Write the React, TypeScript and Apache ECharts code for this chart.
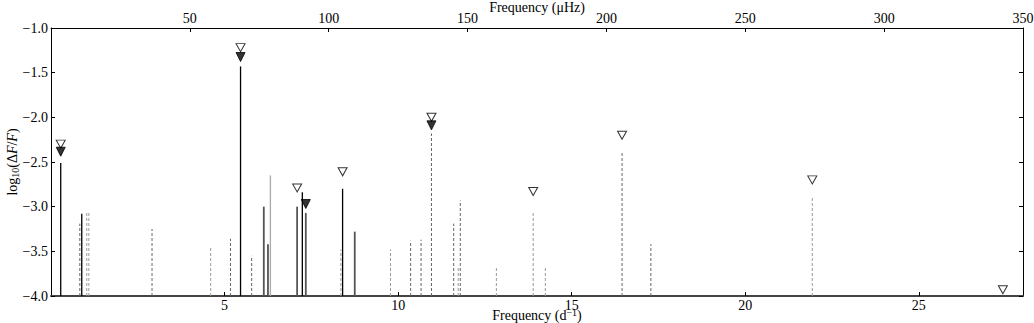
import React, { useEffect, useRef } from "react";
import * as echarts from "echarts";

// Stem data: frequency (d^-1) and log10(dF/F)
const solidBlackFreq = [0.28, 0.886, 5.46, 7.24, 8.4];
const solidBlackVal = [-2.51, -3.08, -1.43, -2.84, -2.8];
const solidGrayFreq = [6.13, 6.25, 7.09, 7.34, 8.75];
const solidGrayVal = [-3.0, -3.42, -3.0, -3.07, -3.28];
const solidLightFreq = [6.32];
const solidLightVal = [-2.65];
const dashedDarkFreq = [0.83, 2.91, 5.17, 5.78, 10.36, 10.66, 10.96, 11.6, 11.79, 16.45, 17.28];
const dashedDarkVal = [-3.19, -3.25, -3.36, -3.55, -3.38, -3.37, -2.18, -3.19, -2.93, -2.4, -3.42];
const dashedLightFreq = [1.03, 1.09, 4.6, 8.35, 9.78, 11.73, 12.83, 13.89, 14.24, 21.93];
const dashedLightVal = [-3.07, -3.06, -3.45, -3.48, -3.48, -3.67, -3.68, -3.05, -3.67, -2.9];

// Triangle markers
const openMarkerFreq = [0.28, 5.46, 7.09, 8.4, 10.96, 13.89, 16.45, 21.93, 27.42];
const openMarkerVal = [-2.3, -1.22, -2.79, -2.61, -2.0, -2.83, -2.2, -2.7, -3.93];
const filledMarkerFreq = [0.28, 5.46, 7.34, 10.96];
const filledMarkerVal = [-2.385, -1.325, -2.97, -2.09];

const X_MIN = 0;
const X_MAX = 28;
const X_INTERVAL = 5;
const TOP_MIN = 0;
const TOP_MAX = 350;
const TOP_INTERVAL = 50;
const Y_MIN = -4;
const Y_MAX = -1;
const Y_INTERVAL = 0.5;
const BASE = -4;

const FONT = "Liberation Serif";

const zip = (a: number[], b: number[]) => a.map((v, i) => [v, b[i]]);

function stemSeries(freq: number[], val: number[], stroke: string, lineWidth: number, lineDash?: number[]) {
  return {
    type: "custom",
    xAxisIndex: 0,
    yAxisIndex: 0,
    z: 2,
    silent: true,
    data: zip(freq, val),
    renderItem: (_params: any, api: any) => {
      const f = api.value(0);
      const v = api.value(1);
      const p0 = api.coord([f, BASE]);
      const p1 = api.coord([f, v]);
      return {
        type: "line",
        shape: { x1: p0[0], y1: p0[1], x2: p1[0], y2: p1[1] },
        style: { stroke, lineWidth, lineDash: lineDash || null, fill: null },
      };
    },
  };
}

const fmtY = (v: number) => (v < 0 ? "\u2212" : "") + Math.abs(v).toFixed(1);

export default function App() {
  const ref = useRef<HTMLDivElement>(null);
  useEffect(() => {
    if (!ref.current) return;
    const chart = echarts.init(ref.current, null, { renderer: "svg" });
    const labelStyle = { fontFamily: FONT, fontSize: 14, color: "#000" };
    chart.setOption({
      animation: false,
      backgroundColor: "#fff",
      textStyle: { fontFamily: FONT },
      grid: { left: 51, right: 11, top: 28, bottom: 27, containLabel: false, outerBoundsMode: "none" },
      xAxis: [
        {
          type: "value",
          position: "bottom",
          min: X_MIN,
          max: X_MAX,
          interval: X_INTERVAL,
          splitLine: { show: false },
          axisLine: { show: true, onZero: false, lineStyle: { color: "#444", width: 2 } },
          axisTick: { show: true, inside: true, length: 4, lineStyle: { color: "#000" } },
          axisLabel: { ...labelStyle, margin: 2, showMinLabel: false, showMaxLabel: false },
          name: "Frequency (d{sup|\u22121})",
          nameLocation: "middle",
          nameGap: 11,
          nameMoveOverlap: false,
          nameTextStyle: {
            fontFamily: FONT,
            fontSize: 14,
            color: "#000",
            rich: { sup: { fontFamily: FONT, fontSize: 10, verticalAlign: "top", padding: [0, 0, 7, 0] } },
          },
        },
        {
          type: "value",
          position: "top",
          min: TOP_MIN,
          max: TOP_MAX,
          interval: TOP_INTERVAL,
          splitLine: { show: false },
          axisLine: { show: true, onZero: false, lineStyle: { color: "#000", width: 1 } },
          axisTick: { show: true, inside: true, length: 4, lineStyle: { color: "#000" } },
          axisLabel: { ...labelStyle, margin: 3, showMinLabel: false },
          name: "Frequency (\u03bcHz)",
          nameLocation: "middle",
          nameGap: 14,
          nameMoveOverlap: false,
          nameTextStyle: { fontFamily: FONT, fontSize: 14, lineHeight: 14, color: "#000" },
        },
      ],
      yAxis: [
        {
          type: "value",
          position: "left",
          min: Y_MIN,
          max: Y_MAX,
          interval: Y_INTERVAL,
          splitLine: { show: false },
          axisLine: { show: true, onZero: false, lineStyle: { color: "#000", width: 1 } },
          axisTick: { show: true, inside: true, length: 4, lineStyle: { color: "#000" } },
          axisLabel: { ...labelStyle, margin: 3, formatter: fmtY },
          name: "log{sub|10}(\u0394{i|F}/{i|F})",
          nameLocation: "middle",
          nameGap: 31,
          nameMoveOverlap: false,
          nameRotate: 90,
          nameTextStyle: {
            fontFamily: FONT,
            fontSize: 14,
            color: "#000",
            rich: {
              sub: { fontFamily: FONT, fontSize: 10, verticalAlign: "bottom", padding: [6, 0, 0, 0] },
              i: { fontFamily: FONT, fontSize: 14, fontStyle: "italic" },
            },
          },
        },
        {
          type: "value",
          position: "right",
          min: Y_MIN,
          max: Y_MAX,
          interval: Y_INTERVAL,
          splitLine: { show: false },
          axisLine: { show: true, onZero: false, lineStyle: { color: "#000", width: 1 } },
          axisTick: { show: true, inside: true, length: 4, lineStyle: { color: "#000" } },
          axisLabel: { show: false },
        },
      ],
      series: [
        stemSeries(dashedLightFreq, dashedLightVal, "#9a9a9a", 1, [3, 2]),
        stemSeries(dashedDarkFreq, dashedDarkVal, "#666", 1, [3, 2]),
        stemSeries(solidLightFreq, solidLightVal, "#aaa", 1.3),
        stemSeries(solidGrayFreq, solidGrayVal, "#555", 1.8),
        stemSeries(solidBlackFreq, solidBlackVal, "#000", 1.3),
        {
          type: "scatter",
          xAxisIndex: 0,
          yAxisIndex: 0,
          z: 4,
          silent: true,
          symbol: "triangle",
          symbolRotate: 180,
          symbolSize: [9, 8],
          data: zip(openMarkerFreq, openMarkerVal),
          itemStyle: { color: "#fff", borderColor: "#000", borderWidth: 1 },
        },
        {
          type: "scatter",
          xAxisIndex: 0,
          yAxisIndex: 0,
          z: 5,
          silent: true,
          symbol: "triangle",
          symbolRotate: 180,
          symbolSize: [9, 9],
          data: zip(filledMarkerFreq, filledMarkerVal),
          itemStyle: { color: "#000", borderColor: "#000", borderWidth: 1 },
        },
      ],
    });
    return () => chart.dispose();
  }, []);
  return <div ref={ref} style={{ width: 1034, height: 323, position: "absolute", left: 0, top: 0 }} />;
}
